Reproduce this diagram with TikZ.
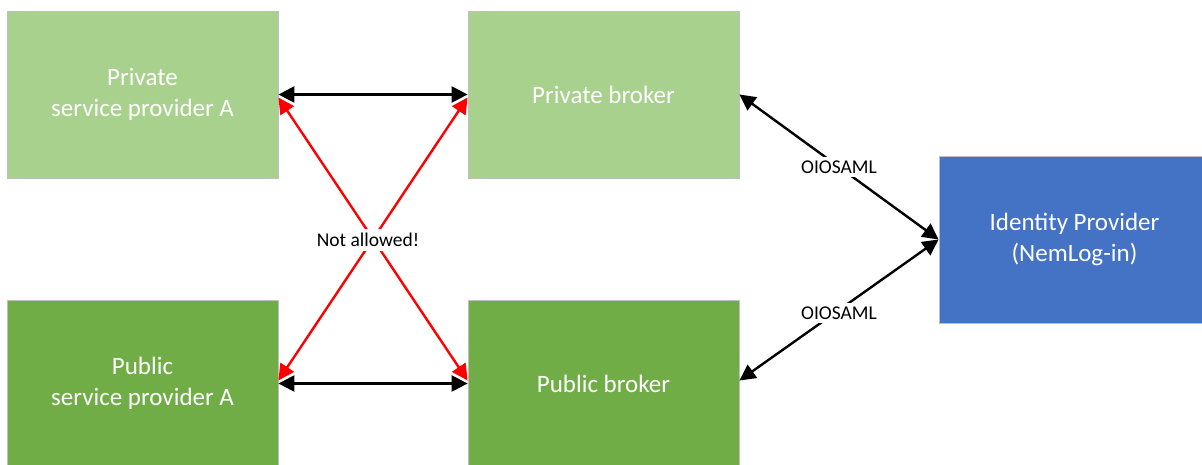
\documentclass[tikz,border=0pt]{standalone}
\usepackage{fontspec}
\setmainfont{Carlito}
\usepackage{xcolor}
\usetikzlibrary{arrows.meta}

\definecolor{lightgreen}{HTML}{A9D18E}
\definecolor{darkgreen}{HTML}{70AD47}
\definecolor{idpblue}{HTML}{4472C4}

\tikzset{
	box/.style={draw=black!25, line width=0.8pt, text=white, align=center,
		minimum width=271pt, minimum height=167pt, inner sep=0pt,
		font=\fontsize{25}{30.5}\selectfont},
	link/.style={line width=2.4pt, {Triangle[width=16pt,length=16pt]}-{Triangle[width=16pt,length=16pt]}},
	wrong/.style={link, red},
	tag/.style={fill=white, inner xsep=2pt, inner ysep=4pt, font=\fontsize{19.5}{23}\selectfont}
}

\begin{document}
\begin{tikzpicture}[x=1pt,y=-1pt]
	\useasboundingbox (0,0) rectangle (1202,465);
% boxes
	\node[box, fill=lightgreen] (privsp) at (142.5,94.5) {Private\\service provider A};
	\node[box, fill=lightgreen] (privbroker) at (603.5,94.5) {Private broker};
	\node[box, fill=darkgreen] (pubsp) at (142.5,383.5) {Public\\service provider A};
	\node[box, fill=darkgreen] (pubbroker) at (603.5,383.5) {Public broker};
	\node[box, fill=idpblue] (idp) at (1074.5,239.5) {Identity Provider\\(NemLog-in)};
% not allowed links
	\draw[wrong] ([yshift=-3pt]privsp.east) -- ([yshift=3pt]pubbroker.west);
	\draw[wrong] ([yshift=-3pt]privbroker.west) -- ([yshift=3pt]pubsp.east);
	\node[tag] (warn) at (368,240) {Not allowed!};
% allowed links
	\draw[link] (privsp.east) -- (privbroker.west);
	\draw[link] (pubsp.east) -- (pubbroker.west);
% OIOSAML links
	\draw[link] (privbroker.east) -- node[tag] (saml1) {OIOSAML} (idp.west);
	\draw[link] ([yshift=3pt]pubbroker.east) -- node[tag, yshift=-3pt] (saml2) {OIOSAML} (idp.west);
\end{tikzpicture}
\end{document}
